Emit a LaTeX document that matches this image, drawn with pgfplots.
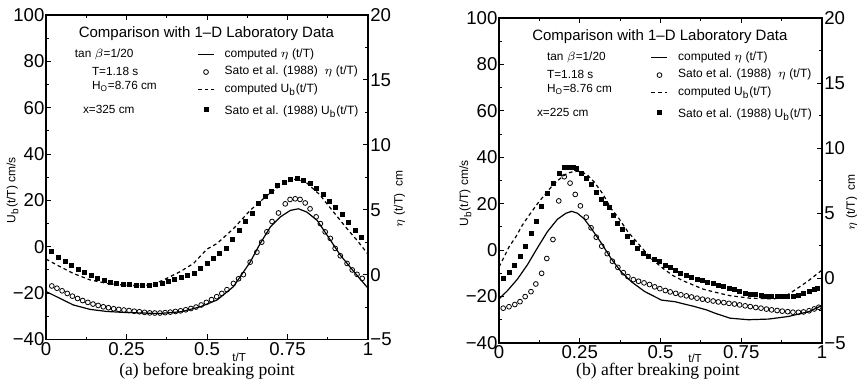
\documentclass[border=0pt]{standalone}
\usepackage{fontspec}
\setmainfont{Liberation Sans}
\newfontfamily\capfont{Liberation Serif}
\usepackage{pgfplots}
\usepackage{pgfplotstable}
\pgfplotsset{compat=1.18}

% ---------------- panel (a) ----------------
\pgfplotstableread{
t v
0 -1.30
0.044 -1.84
0.085 -2.34
0.137 -2.68
0.189 -2.84
0.24 -2.91
0.29 -2.95
0.35 -3.00
0.42 -2.86
0.479 -2.48
0.531 -1.96
0.582 -0.93
0.634 0.96
0.665 2.39
0.697 3.68
0.728 4.45
0.759 4.95
0.784 5.07
0.81 4.82
0.842 4.18
0.873 3.04
0.914 1.50
0.956 0.23
1.0 -1.05
}\aEtaComp

\pgfplotstableread{
t v
0.018 -0.875
0.034 -1.05
0.05 -1.25
0.066 -1.45
0.082 -1.66
0.098 -1.84
0.114 -2.00
0.13 -2.14
0.146 -2.27
0.162 -2.375
0.178 -2.48
0.194 -2.55
0.21 -2.63
0.226 -2.68
0.242 -2.73
0.258 -2.77
0.274 -2.82
0.29 -2.86
0.306 -2.91
0.322 -2.95
0.338 -2.96
0.354 -2.96
0.37 -2.93
0.386 -2.89
0.402 -2.84
0.418 -2.79
0.434 -2.71
0.45 -2.61
0.466 -2.50
0.482 -2.34
0.498 -2.14
0.514 -1.93
0.53 -1.70
0.546 -1.45
0.562 -1.16
0.582 -0.68
0.598 -0.32
0.613 0.00
0.634 0.96
0.655 1.73
0.67 2.50
0.686 3.30
0.702 4.09
0.722 4.75
0.743 5.45
0.758 5.79
0.774 5.84
0.789 5.79
0.805 5.52
0.82 5.07
0.839 4.45
0.852 3.93
0.867 3.29
0.883 2.79
0.898 2.02
0.914 1.45
0.935 0.86
0.951 0.36
0.966 0.02
0.982 -0.29
}\aEtaSato

\pgfplotstableread{
t v
0 -5.3
0.044 -8.6
0.085 -11.5
0.137 -14.3
0.189 -15.8
0.24 -16.5
0.29 -16.8
0.33 -16.4
0.365 -14.3
0.417 -10.7
0.458 -7.2
0.5 -1.0
0.531 1.4
0.582 7.8
0.634 15.7
0.686 22.1
0.728 26.5
0.76 28.7
0.78 29.3
0.81 27.5
0.85 22.5
0.893 15.0
0.935 7.8
0.966 2.8
1.0 -3.2
}\aUbComp

\pgfplotstableread{
t v
0.018 -1.9
0.04 -4.5
0.06 -6.3
0.08 -8.2
0.10 -9.7
0.12 -11.1
0.14 -12.4
0.16 -13.6
0.18 -14.5
0.20 -15.2
0.22 -15.8
0.24 -16.2
0.26 -16.4
0.28 -16.5
0.30 -16.6
0.32 -16.6
0.34 -16.4
0.36 -15.8
0.38 -14.9
0.40 -14.2
0.42 -13.4
0.44 -12.5
0.46 -11.3
0.48 -9.2
0.50 -7.2
0.52 -5.0
0.54 -3.0
0.56 -0.9
0.58 3.0
0.60 7.0
0.62 11.0
0.64 14.5
0.66 18.6
0.68 21.7
0.70 24.1
0.72 26.4
0.74 27.9
0.76 28.9
0.78 29.3
0.80 28.6
0.82 27.2
0.84 25.2
0.86 22.5
0.88 19.6
0.90 17.0
0.92 13.8
0.94 10.6
0.96 7.2
0.98 4.0
}\aUbSato

% ---------------- panel (b) ----------------
\pgfplotstableread{
t v
0 -1.61
0.026 -0.98
0.057 -0.09
0.088 1.02
0.119 2.32
0.15 3.57
0.181 4.52
0.207 4.98
0.225 5.13
0.243 4.98
0.264 4.54
0.285 3.84
0.316 2.71
0.347 1.50
0.378 0.48
0.41 -0.29
0.451 -1.04
0.503 -1.70
0.544 -1.82
0.606 -2.20
0.643 -2.46
0.669 -2.71
0.715 -3.09
0.772 -3.21
0.834 -3.16
0.896 -2.96
0.959 -2.59
1.0 -2.11
}\bEtaComp

\pgfplotstableread{
t v
0.013 -2.32
0.031 -2.21
0.049 -2.04
0.065 -1.82
0.081 -1.43
0.099 -1.05
0.114 -0.46
0.132 0.36
0.148 1.50
0.167 2.96
0.185 5.93
0.202 7.79
0.22 7.30
0.236 6.43
0.252 5.55
0.27 4.68
0.285 3.86
0.301 3.14
0.318 2.45
0.335 1.875
0.351 1.29
0.368 0.82
0.385 0.41
0.399 0.11
0.416 -0.125
0.432 -0.25
0.449 -0.375
0.466 -0.50
0.482 -0.68
0.498 -0.82
0.515 -0.96
0.53 -1.07
0.547 -1.18
0.563 -1.29
0.58 -1.375
0.596 -1.46
0.613 -1.55
0.63 -1.63
0.646 -1.70
0.663 -1.77
0.679 -1.84
0.696 -1.89
0.712 -1.95
0.729 -2.00
0.745 -2.07
0.762 -2.14
0.778 -2.20
0.795 -2.27
0.811 -2.32
0.828 -2.39
0.844 -2.45
0.861 -2.50
0.877 -2.55
0.894 -2.59
0.91 -2.63
0.927 -2.64
0.943 -2.61
0.96 -2.52
0.976 -2.38
0.99 -2.25
}\bEtaSato

\pgfplotstableread{
t v
0 -7.2
0.016 -2.9
0.031 1.4
0.052 5.7
0.072 10.7
0.093 15.0
0.119 20.0
0.14 23.6
0.166 27.9
0.192 31.2
0.212 33.2
0.233 33.9
0.254 34.0
0.275 32.2
0.295 29.3
0.321 24.3
0.347 17.9
0.368 14.3
0.399 7.9
0.44 1.4
0.47 -3.5
0.508 -7.9
0.539 -11.0
0.57 -13.2
0.632 -16.8
0.68 -18.5
0.715 -19.6
0.777 -20.7
0.85 -21.0
0.88 -20.3
0.902 -18.5
0.954 -13.6
1.0 -8.6
}\bUbComp

\pgfplotstableread{
t v
0.013 -12.1
0.031 -9.7
0.049 -6.4
0.065 -2.9
0.083 1.7
0.099 7.4
0.115 12.4
0.132 18.9
0.15 24.3
0.169 28.6
0.187 32.9
0.202 35.5
0.212 35.8
0.221 35.8
0.23 35.8
0.24 35.3
0.256 32.9
0.27 30.8
0.285 28.3
0.3 25.0
0.316 21.8
0.33 20.0
0.342 18.3
0.355 15.0
0.368 11.7
0.382 8.8
0.397 6.0
0.413 3.3
0.43 0.7
0.446 -1.2
0.463 -2.9
0.48 -4.0
0.498 -5.0
0.515 -6.4
0.53 -7.6
0.547 -8.9
0.563 -9.9
0.58 -10.8
0.596 -11.6
0.613 -12.4
0.63 -13.0
0.646 -13.7
0.663 -14.4
0.679 -15.1
0.696 -15.8
0.712 -16.5
0.729 -17.1
0.745 -17.8
0.762 -18.5
0.778 -18.9
0.795 -19.2
0.811 -19.5
0.828 -19.8
0.844 -20.0
0.861 -20.0
0.877 -20.0
0.894 -20.0
0.91 -19.8
0.927 -19.4
0.943 -18.8
0.96 -17.9
0.976 -17.1
0.985 -16.5
}\bUbSato

\pgfplotsset{
  panel/.style={
    scale only axis, width=161pt,
    xmin=0, xmax=1,
    clip mode=individual,
    tick align=inside,
    major tick length=2.6pt, minor tick length=1.5pt,
    every tick/.style={black, line width=0.5pt},
    axis line style={line width=0.6pt},
    tick label style={font=\fontsize{9.3}{10}\selectfont},
    /pgf/number format/assume math mode=true,
  },
  ubaxis/.style={
    panel,
    ymin=-40, ymax=100,
    ytick={-40,-20,0,20,40,60,80,100},
    yticklabels={−40,−20,0,20,40,60,80,100},
    minor y tick num=1,
    ytick pos=left,
    xtick={0,0.25,0.5,0.75,1},
    xticklabels={0,0.25,0.5,0.75,1},
    minor x tick num=1,
    xticklabel style={inner sep=1.2pt},
    yticklabel style={inner sep=0.6pt},
  },
  etaaxis/.style={
    panel,
    ymin=-5, ymax=20,
    ytick={-5,0,5,10,15,20},
    yticklabels={−5,0,5,10,15,20},
    minor y tick num=1,
    axis x line=none, axis y line*=right,
    yticklabel style={inner sep=1pt},
    legend style={at={(0.469,0.898)}, anchor=north west, draw=none, fill=none,
      inner sep=0pt, row sep=3.0pt, column sep=5pt,
      font=\fontsize{6}{7}\selectfont, nodes={inner sep=0pt}},
    legend cell align=left,
  },
  lineleg/.style={legend image code/.code={\draw[##1] (0pt,0pt) -- (8pt,0pt);}},
  markleg/.style={legend image code/.code={\draw[##1] plot coordinates {(4pt,0pt)};}},
  compline/.style={black, line width=0.6pt, no markers, lineleg},
  compdash/.style={black, line width=0.6pt, no markers, dash pattern=on 1.8pt off 1.5pt, lineleg},
  satoeta/.style={black, only marks, mark=o, mark size=1.2pt, mark options={line width=0.4pt}, markleg},
  satoub/.style={black, only marks, mark=square*, mark size=1.0pt, markleg},
}

\newcommand{\strutA}{\rule[-1.2pt]{0pt}{5.4pt}}
\newcommand{\strutB}{\rule[-1.2pt]{0pt}{7.6pt}}
\newcommand{\annfont}{\fontsize{5.9}{7}\selectfont}

\begin{document}
\begin{tikzpicture}[x=1pt,y=1pt]
\useasboundingbox (0,0) rectangle (428.5,193.5);

% ===== panel (a) =====
\begin{axis}[ubaxis, at={(23pt,23.75pt)}, anchor=south west, height=162.25pt]
  \addplot[compdash] table[x=t,y=v] {\aUbComp};
  \addplot[satoub] table[x=t,y=v] {\aUbSato};
  \node[font=\fontsize{7.5}{9}\selectfont] at (axis description cs:0.498,0.944) {Comparison with 1–D Laboratory Data};
  \node[font=\annfont, anchor=west] at (axis description cs:0.068,0.88) {tan $\beta$=1/20};
  \node[font=\annfont, anchor=west] at (axis description cs:0.121,0.827) {T=1.18 s};
  \node[font=\annfont, anchor=west] at (axis description cs:0.121,0.779) {H\textsubscript{O}=8.76 cm};
  \node[font=\annfont, anchor=west] at (axis description cs:0.093,0.71) {x=325 cm};
  \node[font=\fontsize{6}{7}\selectfont, rotate=90] at (axis description cs:-0.104,0.46) {U\textsubscript{b}(t/T) cm/s};
  \node[font=\fontsize{5.8}{7}\selectfont] at (axis description cs:0.60,-0.054) {t/T};
\end{axis}
\begin{axis}[etaaxis, at={(23pt,23.75pt)}, anchor=south west, height=162.25pt]
  \addplot[compline] table[x=t,y=v] {\aEtaComp};
  \addlegendentry{\strutA computed $\eta$ (t/T)}
  \addplot[satoeta] table[x=t,y=v] {\aEtaSato};
  \addlegendentry{\strutA Sato et al. (1988) \ $\eta$ (t/T)}
  \addlegendimage{compdash}
  \addlegendentry{\strutA computed U\textsubscript{b}(t/T)}
  \addlegendimage{satoub}
  \addlegendentry{\strutB Sato et al. (1988) U\textsubscript{b}(t/T)}
  \node[font=\fontsize{6}{7}\selectfont, rotate=90] at (axis description cs:1.098,0.433) {$\eta$ (t/T) \ cm};
\end{axis}
\node[font=\capfont\fontsize{8.8}{10}\selectfont] at (103.5,8) {(a) before breaking point};

% ===== panel (b) =====
\begin{axis}[ubaxis, at={(249.5pt,22pt)}, anchor=south west, height=162.5pt, width=161.5pt]
  \addplot[compdash] table[x=t,y=v] {\bUbComp};
  \addplot[satoub] table[x=t,y=v] {\bUbSato};
  \node[font=\fontsize{7.5}{9}\selectfont] at (axis description cs:0.498,0.944) {Comparison with 1–D Laboratory Data};
  \node[font=\annfont, anchor=west] at (axis description cs:0.127,0.88) {tan $\beta$=1/20};
  \node[font=\annfont, anchor=west] at (axis description cs:0.127,0.827) {T=1.18 s};
  \node[font=\annfont, anchor=west] at (axis description cs:0.127,0.779) {H\textsubscript{O}=8.76 cm};
  \node[font=\annfont, anchor=west] at (axis description cs:0.096,0.71) {x=225 cm};
  \node[font=\fontsize{6}{7}\selectfont, rotate=90] at (axis description cs:-0.104,0.46) {U\textsubscript{b}(t/T) cm/s};
  \node[font=\fontsize{5.8}{7}\selectfont] at (axis description cs:0.607,-0.046) {t/T};
\end{axis}
\begin{axis}[etaaxis, at={(249.5pt,22pt)}, anchor=south west, height=162.5pt, width=161.5pt]
  \addplot[compline] table[x=t,y=v] {\bEtaComp};
  \addlegendentry{\strutA computed $\eta$ (t/T)}
  \addplot[satoeta] table[x=t,y=v] {\bEtaSato};
  \addlegendentry{\strutA Sato et al. (1988) \ $\eta$ (t/T)}
  \addlegendimage{compdash}
  \addlegendentry{\strutA computed U\textsubscript{b}(t/T)}
  \addlegendimage{satoub}
  \addlegendentry{\strutB Sato et al. (1988) U\textsubscript{b}(t/T)}
  \node[font=\fontsize{6}{7}\selectfont, rotate=90] at (axis description cs:1.092,0.433) {$\eta$ (t/T) \ cm};
\end{axis}
\node[font=\capfont\fontsize{8.8}{10}\selectfont] at (329,8) {(b) after breaking point};
\end{tikzpicture}
\end{document}
